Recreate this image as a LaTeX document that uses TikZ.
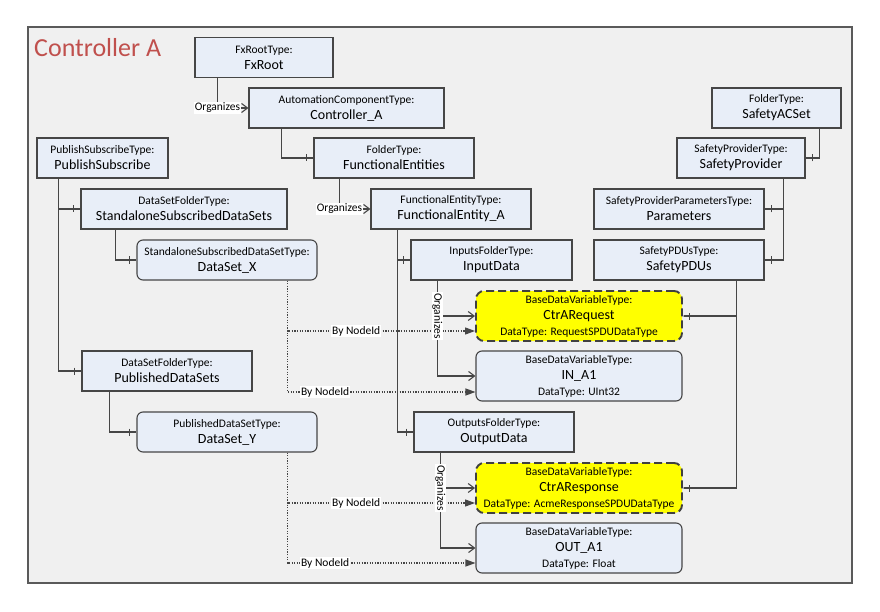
\documentclass[tikz,border=0pt]{standalone}
\usepackage{fontspec}
\setmainfont{Carlito}
\usetikzlibrary{arrows.meta}

\definecolor{boxfill}{RGB}{232,238,248}
\definecolor{framefill}{RGB}{240,240,240}
\definecolor{framegray}{RGB}{90,90,90}
\definecolor{linegray}{RGB}{70,70,70}
\definecolor{titlered}{RGB}{192,80,77}
\definecolor{safetyfill}{RGB}{255,255,0}

\newcommand{\objtext}[2]{#1\\{\fontsize{14}{16}\selectfont #2}}
\newcommand{\vartext}[3]{#1\\{\fontsize{14}{16}\selectfont #2}\\#3}

\begin{document}
\begin{tikzpicture}
    [ x=1pt, y=-1pt
    , every node/.style={font=\fontsize{11.5}{16}\selectfont}
    , obj/.style={draw=linegray, fill=boxfill, line width=1.1pt, minimum height=40pt, inner sep=1pt, align=center}
    , dset/.style={obj, rounded corners=6pt}
    , var/.style={dset, minimum height=50pt, minimum width=206pt}
    , safety/.style={var, fill=safetyfill, draw=black!75, line width=1.9pt, dash pattern=on 8pt off 4pt, rounded corners=8pt}
    , title/.style={font=\fontsize{26}{30}\selectfont, text=titlered, inner sep=0pt}
    , conn/.style={draw=linegray, line width=1.1pt}
    , comp/.style={conn, -{Bar[width=7pt] Rectangle[length=6pt, width=0pt 1]}}
    , organizes/.style={conn, -{Straight Barb[length=6pt, width=9pt]}}
    , bynodeid/.style={conn, dash pattern=on 1.3pt off 1.3pt, -{Triangle[length=10pt, width=7pt]}}
    , lbl/.style={fill=white, inner sep=1pt}
    ]

    \useasboundingbox (0,0) rectangle (880,612);
    \draw [draw=framegray, fill=framefill, line width=1.3pt] (28,27) rectangle (852,583);

    \node [title, anchor=west] (title) at (34,48) {Controller A};

    \node [obj, minimum width=138pt] (fxroot)   at (264,57.5)  {\objtext{FxRootType:}{FxRoot}};
    \node [obj, minimum width=195pt] (ctrl)     at (346.5,108) {\objtext{AutomationComponentType:}{Controller\_A}};
    \node [obj, minimum width=160pt] (funcents) at (394,158)   {\objtext{FolderType:}{FunctionalEntities}};
    \node [obj, minimum width=160pt] (fentity)  at (451,209)   {\objtext{FunctionalEntityType:}{FunctionalEntity\_A}};
    \node [obj, minimum width=161pt] (inputs)   at (491.5,260) {\objtext{InputsFolderType:}{InputData}};
    \node [obj, minimum width=160pt] (outputs)  at (494,432)   {\objtext{OutputsFolderType:}{OutputData}};

    \node [obj, minimum width=131pt] (pubsub)   at (102.5,158) {\objtext{PublishSubscribeType:}{PublishSubscribe}};
    \node [obj, minimum width=206pt] (subsets)  at (184,209)   {\objtext{DataSetFolderType:}{StandaloneSubscribedDataSets}};
    \node [dset, minimum width=180pt] (dsx)     at (227,260)   {\objtext{StandaloneSubscribedDataSetType:}{DataSet\_X}};
    \node [obj, minimum width=170pt] (pubsets)  at (167,371)   {\objtext{DataSetFolderType:}{PublishedDataSets}};
    \node [dset, minimum width=180pt] (dsy)     at (227,432)   {\objtext{PublishedDataSetType:}{DataSet\_Y}};

    \node [obj, minimum width=129pt] (acset)    at (776.5,108) {\objtext{FolderType:}{SafetyACSet}};
    \node [obj, minimum width=128pt] (sprov)    at (741,158)   {\objtext{SafetyProviderType:}{SafetyProvider}};
    \node [obj, minimum width=170pt] (params)   at (679,209)   {\objtext{SafetyProviderParametersType:}{Parameters}};
    \node [obj, minimum width=170pt] (pdus)     at (679,260)   {\objtext{SafetyPDUsType:}{SafetyPDUs}};

    \node [safety] (req)  at (579,316) {\vartext{BaseDataVariableType:}{CtrARequest}{DataType: RequestSPDUDataType}};
    \node [var]    (in1)  at (579,376) {\vartext{BaseDataVariableType:}{IN\_A1}{DataType: UInt32}};
    \node [safety] (resp) at (579,488) {\vartext{BaseDataVariableType:}{CtrAResponse}{DataType: AcmeResponseSPDUDataType}};
    \node [var]    (out1) at (579,548) {\vartext{BaseDataVariableType:}{OUT\_A1}{DataType: Float}};

    \draw [comp] ([xshift=33pt]ctrl.south west) |- (funcents.west);
    \draw [comp] ([xshift=22pt]pubsub.south west) |- (subsets.west);
    \draw [comp] ([xshift=22pt]pubsub.south west) |- (pubsets.west);
    \draw [comp] ([xshift=35pt]subsets.south west) |- (dsx.west);
    \draw [comp] ([xshift=28pt]pubsets.south west) |- (dsy.west);
    \draw [comp] ([xshift=27pt]fentity.south west) |- (inputs.west);
    \draw [comp] ([xshift=27pt]fentity.south west) |- (outputs.west);
    \draw [comp] ([xshift=-22pt]acset.south east) |- (sprov.east);
    \draw [comp] ([xshift=-22pt]sprov.south east) |- (params.east);
    \draw [comp] ([xshift=-22pt]sprov.south east) |- (pdus.east);
    \draw [comp] ([xshift=-28pt]pdus.south east) |- (req.east);
    \draw [comp] ([xshift=-28pt]pdus.south east) |- (resp.east);

    \draw [bynodeid] ([xshift=-30pt]dsx.south east) |- node [lbl, pos=0.6] {By NodeId} ([yshift=-16pt]in1.west);
    \draw [bynodeid] ([xshift=-30pt]dsx.south east) |- node [lbl, pos=0.683] {By NodeId} ([yshift=-15pt]req.west);
    \draw [bynodeid] ([xshift=-30pt]dsy.south east) |- node [lbl, pos=0.6] {By NodeId} ([yshift=-15pt]out1.west);
    \draw [bynodeid] ([xshift=-30pt]dsy.south east) |- node [lbl, pos=0.683] {By NodeId} ([yshift=-15pt]resp.west);

    \draw [organizes] ([xshift=23pt]fxroot.south west) |- node [lbl, pos=0.5] {Organizes} (ctrl.west);
    \draw [organizes] ([xshift=26pt]funcents.south west) |- node [lbl, pos=0.5] {Organizes} (fentity.west);
    \draw [organizes] ([xshift=27pt]inputs.south west) |- (in1.west);
    \draw [organizes] ([xshift=27pt]inputs.south west) |- node [lbl, pos=0.5, rotate=-90] {Organizes} (req.west);
    \draw [organizes] ([xshift=27pt]outputs.south west) |- (out1.west);
    \draw [organizes] ([xshift=27pt]outputs.south west) |- node [lbl, pos=0.5, rotate=-90] {Organizes} (resp.west);

\end{tikzpicture}
\end{document}
